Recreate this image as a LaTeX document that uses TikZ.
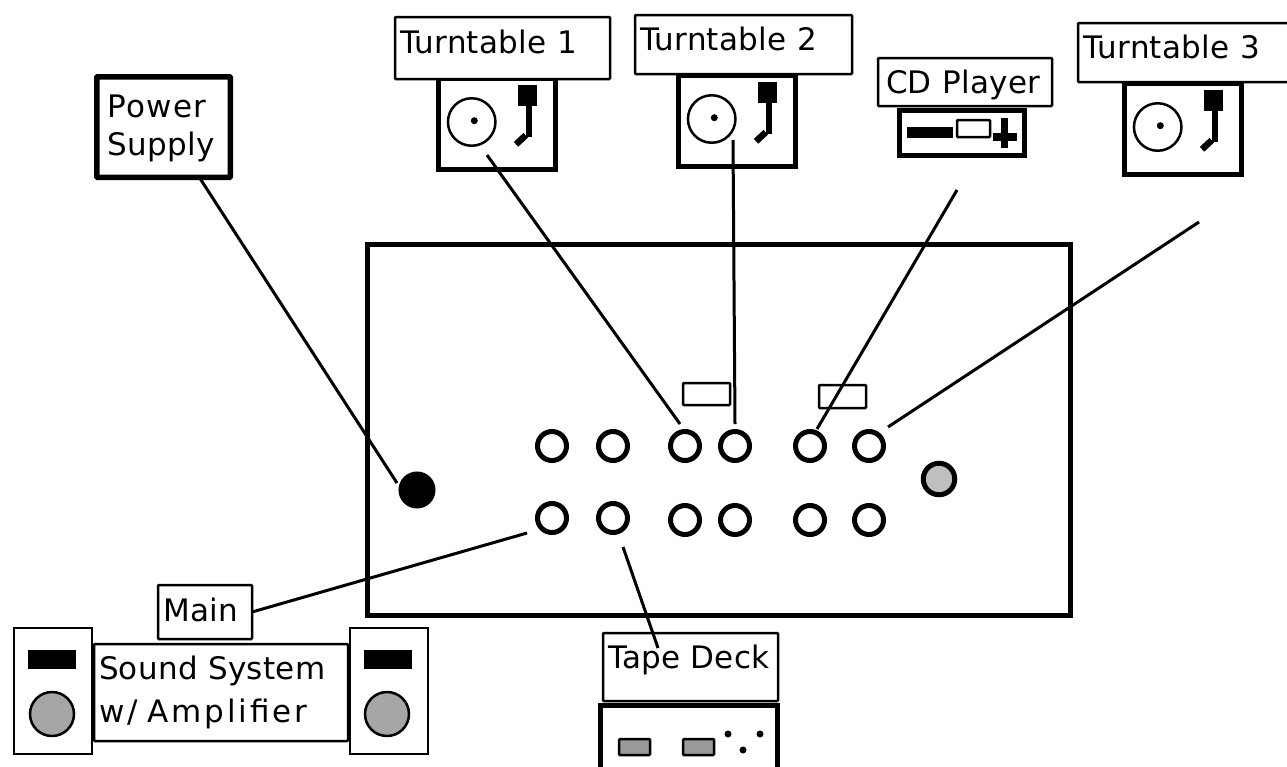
\documentclass[tikz,border=0pt]{standalone}
\usepackage{fontspec}
\setmainfont[LetterSpace=1.0]{DejaVu Sans}
\definecolor{knobgray}{HTML}{A6A6A6}
\definecolor{grndgray}{HTML}{BFBFBF}
\definecolor{keygray}{HTML}{999999}
\tikzset{
    lab/.style n args={3}{rectangle, draw, fill=white, line width=2.5pt, anchor=north west, align=left,
        inner xsep=5pt, inner ysep=0pt, outer sep=0pt, rounded corners=0.8pt, font=\fontsize{31}{38}\selectfont,
        text width=#1pt, text height=#2pt, text depth=#3pt},
    deck/.style={rectangle, draw, fill=white, line width=5pt, anchor=north west, inner sep=0pt, outer sep=0pt},
    jack/.style={circle, draw, fill=white, line width=5pt, minimum size=29pt, inner sep=0pt},
    slot/.style={rectangle, draw, fill=white, line width=2.5pt, anchor=north west, inner sep=0pt, outer sep=0pt, minimum width=47pt, rounded corners=0.8pt},
    cable/.style={line width=3pt}
}
\newcommand{\turntable}[3]{
    \begin{scope}[shift={(#1,#2)}]
        \draw (0,0)         node[deck, minimum width=116.5pt, minimum height=91pt] (#3) {};
        \draw [line width=2.5pt] (33.2,44) circle [radius=23.75];
        \fill (35.8,42.7)   circle [radius=3.5];
        \fill (79.5,7) rectangle (98.5,28);
        \draw [line width=6pt] (90.5,28) -- (90.5,59);
        \draw [line width=6.5pt] (77.5,66.3) -- (87.2,57.3);
    \end{scope}
}
\begin{document}
\begin{tikzpicture}
    \tikzset{x=1pt, y=-1pt}
    \useasboundingbox (0,0) rectangle (1287,766);

    % mixer
    \draw (367,244)     node[deck, minimum width=703pt, minimum height=371.5pt] (mixer) {};
    \draw (683,383)     node[slot, minimum height=22pt]  (slotl) {};
    \draw (819,385)     node[slot, minimum height=23pt]  (slotr) {};

    % top row of jacks
    \draw (552,446)     node[jack]  (a1) {};
    \draw (613,446)     node[jack]  (a2) {};
    \draw (685,446)     node[jack]  (a3) {};
    \draw (735,446)     node[jack]  (a4) {};
    \draw (810,446)     node[jack]  (a5) {};
    \draw (869,446)     node[jack]  (a6) {};

    % bottom row of jacks
    \draw (552,518)     node[jack]  (b1) {};
    \draw (613,518)     node[jack]  (b2) {};
    \draw (685,520)     node[jack]  (b3) {};
    \draw (735,520)     node[jack]  (b4) {};
    \draw (810,520)     node[jack]  (b5) {};
    \draw (869,520)     node[jack]  (b6) {};

    % power and ground
    \draw (417,490)     node[jack, fill=black, minimum size=32pt] (pwrjack) {};
    \draw (939,479)     node[jack, fill=grndgray, minimum size=31.5pt] (gnd) {};

    % turntables
    \turntable{438.5}{78}{tta}
    \turntable{678.5}{75}{ttb}
    \turntable{1124.5}{83}{ttc}
    \draw (395,17)      node[lab={205}{36}{26}] (tta lab) {Turntable 1};
    \draw (635,15)      node[lab={207}{35}{24}] (ttb lab) {Turntable 2};
    \draw (1078,23)     node[lab={205}{35}{24}] (ttc lab) {Turntable 3};

    % cd player
    \draw (899.5,110)   node[deck, minimum width=125pt, minimum height=45.5pt] (cd) {};
    \fill (907,127) rectangle (953,138);
    \draw [line width=2.5pt, rounded corners=1pt, fill=white] (957,120) rectangle (990,137);
    \fill (993,133) rectangle (1017,141);
    \fill (1001,118) rectangle (1008,148);
    \draw (878,58)      node[lab={158}{35}{13}, inner xsep=8pt] (cd lab) {CD Player};

    % power supply
    \draw (96.75,76.75) node[lab={111.5}{40.25}{60.25}, line width=5.5pt, inner xsep=11pt] (pwr) {{\addfontfeature{LetterSpace=4}Power}\\Supply};

    % tape deck
    \draw (600.5,705.5) node[deck, minimum width=176.5pt, minimum height=90pt] (tape) {};
    \draw [line width=2.5pt, rounded corners=1pt, fill=keygray] (619,739) rectangle (650,755);
    \draw [line width=2.5pt, rounded corners=1pt, fill=keygray] (683,739) rectangle (714,755);
    \fill (728,734) circle [radius=3.5];
    \fill (760,734) circle [radius=3.5];
    \fill (743,750) circle [radius=3.5];
    \draw (603,633)     node[lab={165}{35}{33}] (tape lab) {Tape Deck};

    % sound system
    \draw (94,644)      node[lab={244}{35}{62}] (amp) {Sound System\\[5pt]{\addfontfeature{LetterSpace=9}w/ Amplifier}};
    \draw (14,628)      node[deck, line width=2.5pt, minimum width=78pt, minimum height=126pt] (spkl) {};
    \fill (28,650) rectangle (76,669);
    \draw [line width=2.5pt, fill=knobgray] (52,714) circle [radius=22];
    \draw (350,628)     node[deck, line width=2.5pt, minimum width=78pt, minimum height=126pt] (spkr) {};
    \fill (364,650) rectangle (412,669);
    \draw [line width=2.5pt, fill=knobgray] (387,714) circle [radius=22];
    \draw (158,585)     node[lab={84}{36}{18}] (main) {Main};

    % free ends of the cables
    \coordinate (pwr end)   at (397,483);
    \coordinate (tta start) at (487,155);
    \coordinate (tta end)   at (680,424);
    \coordinate (ttb start) at (733,140);
    \coordinate (ttb end)   at (735,424);
    \coordinate (cd start)  at (957,190);
    \coordinate (cd end)    at (817,429);
    \coordinate (ttc start) at (1199,222);
    \coordinate (ttc end)   at (888,427);
    \coordinate (main end)  at (527,533);
    \coordinate (tape start) at (623,547);
    \coordinate (tape end)  at (658,648);

    % cables
    \draw [cable]       (pwr.south east) ++(-31,0) -- (pwr end);
    \draw [cable]       (tta start) -- (tta end);
    \draw [cable]       (ttb start) -- (ttb end);
    \draw [cable]       (cd start) -- (cd end);
    \draw [cable]       (ttc start) -- (ttc end);
    \draw [cable]       (main.east) -- (main end);
    \draw [cable]       (tape start) -- (tape end);
\end{tikzpicture}
\end{document}
